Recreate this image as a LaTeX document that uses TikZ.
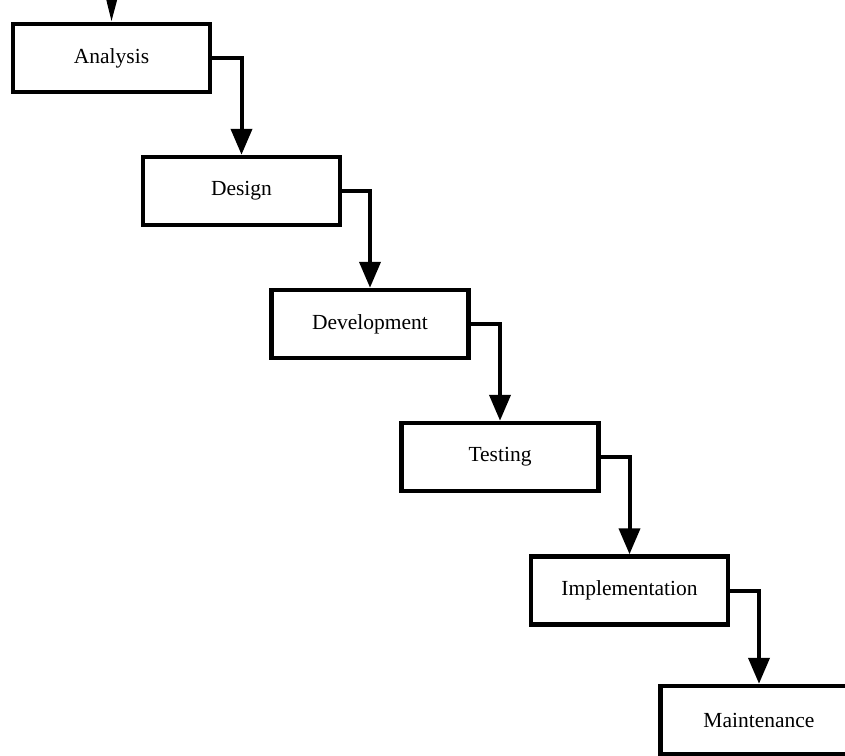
\documentclass[tikz,border=0pt]{standalone}
\usepackage{fontspec}
\setmainfont{Liberation Serif}
\usetikzlibrary{arrows.meta}
\begin{document}
\begin{tikzpicture}[x=1pt,y=-1pt,
  stage/.style={draw=black,line width=4.5pt,fill=white,minimum width=197pt,minimum height=68pt,
    inner sep=0pt,font=\fontsize{21.5}{25}\selectfont},
  flow/.style={line width=4pt,-{Triangle[length=26pt,width=21pt]}},
  enter/.style={line width=3pt,-{Triangle[length=22pt,width=10pt]}}]
\useasboundingbox (0,0) rectangle (845,755);
\clip (0,0) rectangle (845,755);
\node[stage] (an) at (111.5,58) {Analysis};
\node[stage] (de) at (241.5,191) {Design};
\node[stage] (dv) at (370,324) {Development};
\node[stage] (te) at (500,457) {Testing};
\node[stage] (im) at (629.5,590.5) {Implementation};
\node[stage] (ma) at (759,720) {Maintenance};
\coordinate (in) at (112,-30);
\draw[enter] (in) -- (an.north);
\draw[flow] (an.east) -| (de.north);
\draw[flow] (de.east) -| (dv.north);
\draw[flow] (dv.east) -| (te.north);
\draw[flow] (te.east) -| (im.north);
\draw[flow] (im.east) -| (ma.north);
\end{tikzpicture}
\end{document}
